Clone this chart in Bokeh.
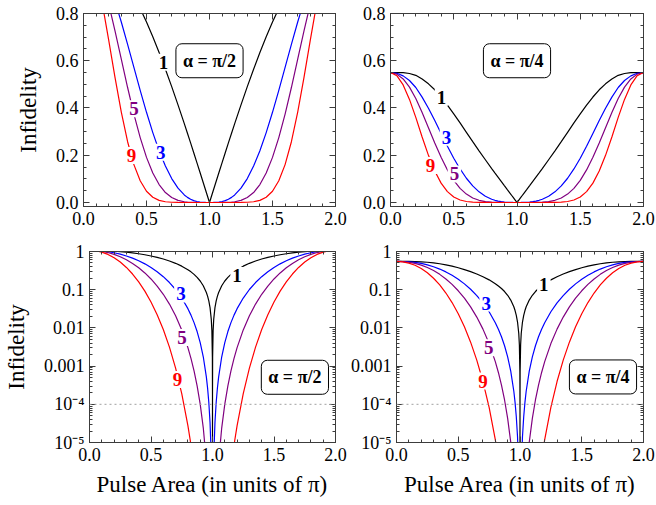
from bokeh.plotting import figure
from bokeh.models import (FixedTicker, LinearAxis, LogAxis, Label, Span,
                          CustomJSTickFormatter, Range1d)
from bokeh.layouts import column, row
from bokeh.embed import file_html
from bokeh.resources import INLINE

# ---------------- data ----------------
# distance of the pulse area from pi (in units of pi); curves are symmetric about 1.0
area_offset = [0, 1e-6, 1e-5, 1e-4, 0.001, 0.005, 0.01, 0.02, 0.03, 0.04, 0.05, 0.075,
               0.1, 0.125, 0.15, 0.175, 0.2, 0.25, 0.3, 0.35, 0.4, 0.45, 0.5, 0.55,
               0.6, 0.65, 0.7, 0.75, 0.8, 0.85, 0.9, 0.95, 1.0]

# alpha = pi/2
half_pi2_n1 = [0, 1.7e-6, 1.7e-5, 1.7e-4, 1.7e-3, 0.00848, 0.01696, 0.03392, 0.05087, 0.06781,
               0.08474, 0.1269, 0.1689, 0.2107, 0.2521, 0.2932, 0.3337, 0.4133, 0.4903, 0.5643,
               0.6348, 0.7014, 0.7637, 0.8212, 0.8737, 0.9209, 0.9623, 0.9978, 1.0271, 1.0502,
               1.0667, 1.0767, 1.08]
half_pi2_n3 = [0, 4.2e-18, 4.2e-15, 4.2e-12, 4.2e-9, 5.23e-7, 4.19e-6, 3.35e-5, 1.129e-4, 2.674e-4,
               5.216e-4, 1.754e-3, 4.134e-3, 8.019e-3, 0.01374, 0.0216, 0.03187, 0.06053, 0.1011,
               0.1541, 0.2193, 0.2958, 0.3818, 0.4749, 0.5719, 0.6694, 0.764, 0.8517, 0.9291,
               0.9929, 1.0406, 1.07, 1.08]
half_pi2_n5 = [0, 1.0e-29, 1.0e-24, 1.0e-19, 1.0e-14, 3.2e-11, 1.03e-9, 3.30e-8, 2.505e-7, 1.054e-6,
               3.211e-6, 2.423e-5, 1.012e-4, 3.052e-4, 7.488e-4, 1.592e-3, 3.043e-3, 8.864e-3,
               0.02083, 0.04206, 0.07577, 0.1248, 0.1909, 0.2746, 0.3743, 0.4867, 0.6065, 0.7269,
               0.8403, 0.9388, 1.0151, 1.0635, 1.08]
half_pi2_n9 = [0, 6.3e-53, 6.3e-44, 6.3e-35, 6.4e-26, 1.3e-19, 6.3e-17, 3.2e-14, 1.2e-12, 1.6e-11,
               1.217e-10, 4.623e-9, 6.059e-8, 4.421e-7, 2.224e-6, 8.64e-6, 2.775e-5, 1.901e-4,
               8.848e-4, 3.135e-3, 9.045e-3, 0.0222, 0.04773, 0.0918, 0.1603, 0.2572, 0.3823,
               0.5296, 0.6875, 0.8393, 0.9661, 1.0504, 1.08]

# alpha = pi/4
half_pi4_n1 = [0, 7.1e-7, 7.1e-6, 7.1e-5, 7.1e-4, 0.00356, 0.00712, 0.01425, 0.02137, 0.02848,
               0.03568, 0.05342, 0.07144, 0.08955, 0.1076, 0.1255, 0.1435, 0.181, 0.2187, 0.2573,
               0.2971, 0.3367, 0.375, 0.4122, 0.4465, 0.477, 0.5023, 0.5224, 0.5382, 0.5461,
               0.5494, 0.5502, 0.55]
half_pi4_n3 = [0, 1.76e-18, 1.76e-15, 1.76e-12, 1.76e-9, 2.2e-7, 1.76e-6, 1.407e-5, 4.742e-5,
               1.123e-4, 2.196e-4, 7.384e-4, 1.749e-3, 3.408e-3, 5.867e-3, 9.245e-3, 0.0137,
               0.02651, 0.04509, 0.07027, 0.1026, 0.142, 0.1875, 0.2384, 0.2922, 0.3467, 0.3988,
               0.4459, 0.4868, 0.5163, 0.5359, 0.5468, 0.55]
half_pi4_n5 = [0, 4.3e-30, 4.3e-25, 4.3e-20, 4.3e-15, 1.34e-11, 4.33e-10, 1.386e-8, 1.052e-7,
               4.427e-7, 1.352e-6, 1.02e-5, 4.281e-5, 1.297e-4, 3.197e-4, 6.814e-4, 1.308e-3,
               3.882e-3, 9.29e-3, 0.01918, 0.03546, 0.0599, 0.09373, 0.1378, 0.1913, 0.2521,
               0.3166, 0.3805, 0.4403, 0.4882, 0.5228, 0.5434, 0.55]
half_pi4_n9 = [0, 2.6e-53, 2.6e-44, 2.6e-35, 2.7e-26, 5.5e-20, 2.6e-17, 1.3e-14, 5.0e-13, 6.7e-12,
               5.12e-11, 1.946e-9, 2.563e-8, 1.879e-7, 9.496e-7, 3.698e-6, 1.193e-5, 8.326e-5,
               3.946e-4, 1.43e-3, 4.233e-3, 0.01066, 0.02344, 0.04608, 0.08191, 0.1332, 0.1996,
               0.2772, 0.3603, 0.4364, 0.4975, 0.5368, 0.55]

pulse_counts = [1, 3, 5, 9]

x_ticks = [0.0, 0.5, 1.0, 1.5, 2.0]
x_tick_labels = ["0.0", "0.5", "1.0", "1.5", "2.0"]
lin_y_ticks = [0.0, 0.2, 0.4, 0.6, 0.8]
lin_y_tick_labels = ["0.0", "0.2", "0.4", "0.6", "0.8"]
log_y_ticks = [1e-5, 1e-4, 1e-3, 1e-2, 1e-1, 1.0]
log_y_tick_labels = ["10\u207b\u2075", "10\u207b\u2074", "0.001", "0.01", "0.1", "1"]

x_title = "Pulse Area (in units of \u03c0)"
y_title = "Infidelity"

# ---------------- helpers ----------------
FONT = "Liberation Serif"
FRAME = "#3c3c3c"
COLORS = {1: "black", 3: "#0000ff", 5: "#800080", 9: "#ff0000"}

x_full = [1 - d for d in reversed(area_offset)] + [1 + d for d in area_offset[1:]]


def mirror(vals):
    return list(reversed(vals)) + list(vals[1:])


def fmt(ticks, labels, log):
    code = """
    let best = 0, bd = 1e99;
    for (let i = 0; i < tv.length; i++) {
        const a = LOG ? Math.log10(tv[i]) : tv[i];
        const b = LOG ? Math.log10(tick) : tick;
        const dd = Math.abs(a - b);
        if (dd < bd) { bd = dd; best = i; }
    }
    return tl[best];
    """.replace("LOG", "true" if log else "false")
    return CustomJSTickFormatter(args=dict(tv=ticks, tl=labels), code=code)


def style_axis(ax, ticker, formatter):
    ax.ticker = ticker
    ax.formatter = formatter
    ax.major_tick_in = 6
    ax.major_tick_out = 0
    ax.minor_tick_in = 3
    ax.minor_tick_out = 0
    ax.axis_line_color = FRAME
    ax.major_tick_line_color = FRAME
    ax.minor_tick_line_color = FRAME
    ax.major_label_text_font = FONT
    ax.major_label_text_font_size = "18px"
    ax.major_label_text_color = "black"
    ax.major_label_standoff = 5
    ax.axis_label_text_font = FONT
    ax.axis_label_text_font_size = "23px"
    ax.axis_label_text_font_style = "normal"
    ax.axis_label_text_color = "black"


def panel(series, log, w, h, borders, ylab, xlab, num_labels, box_xy, box_text):
    kw = dict(width=w, height=h, x_range=Range1d(0, 2), output_backend="svg",
              toolbar_location=None, tools="")
    if log:
        p = figure(y_range=Range1d(1e-5, 1), y_axis_type="log", **kw)
    else:
        p = figure(y_range=Range1d(-0.017, 0.8), **kw)
    p.min_border_left, p.min_border_right, p.min_border_top, p.min_border_bottom = borders
    p.outline_line_color = FRAME
    p.outline_line_width = 1
    p.xgrid.visible = False
    p.ygrid.visible = False
    p.background_fill_color = "white"
    p.border_fill_color = "white"

    xt = FixedTicker(ticks=x_ticks, minor_ticks=[i / 10 for i in range(21)])
    if log:
        yt = FixedTicker(ticks=log_y_ticks,
                         minor_ticks=[m * 10.0 ** k for k in range(-5, 0) for m in range(2, 10)])
        yf = fmt(log_y_ticks, log_y_tick_labels, True)
    else:
        yt = FixedTicker(ticks=lin_y_ticks, minor_ticks=[i * 0.05 for i in range(17)])
        yf = fmt(lin_y_ticks, lin_y_tick_labels, False)

    style_axis(p.xaxis[0], xt, fmt(x_ticks, x_tick_labels, False))
    style_axis(p.yaxis[0], yt, yf)
    if ylab:
        p.yaxis[0].axis_label = y_title
        p.yaxis[0].axis_label_standoff = 12
    if xlab:
        p.xaxis[0].axis_label = x_title
        p.xaxis[0].axis_label_standoff = 8

    empty = CustomJSTickFormatter(code="return ''")
    top = LinearAxis()
    style_axis(top, FixedTicker(ticks=x_ticks, minor_ticks=[i / 10 for i in range(21)]), empty)
    top.major_label_standoff = 0
    p.add_layout(top, "above")
    right = LogAxis() if log else LinearAxis()
    style_axis(right, yt, empty)
    right.major_label_standoff = 0
    p.add_layout(right, "right")

    if log:
        p.add_layout(Span(location=1e-4, dimension="width", line_color="#a0a0a0",
                          line_dash="2 3", line_width=1))

    for n in pulse_counts:
        p.line(x_full, mirror(series[n]), line_color=COLORS[n], line_width=1.2)

    for n, (lx, ly) in num_labels.items():
        p.add_layout(Label(x=lx, y=ly, text=str(n), text_color=COLORS[n], text_font=FONT,
                           text_font_style="bold", text_font_size="19px",
                           text_align="center", text_baseline="middle",
                           background_fill_color="white", padding=2))
    p.add_layout(Label(x=box_xy[0], y=box_xy[1], text=box_text, text_font=FONT,
                       text_font_style="bold", text_font_size="18px", text_color="black",
                       text_align="center", text_baseline="middle",
                       background_fill_color="white", border_line_color="black",
                       border_line_width=1, padding=7, border_radius=6))
    return p


pi2 = {1: half_pi2_n1, 3: half_pi2_n3, 5: half_pi2_n5, 9: half_pi2_n9}
pi4 = {1: half_pi4_n1, 3: half_pi4_n3, 5: half_pi4_n5, 9: half_pi4_n9}

tl = panel(pi2, False, 347, 236, (83, 12, 13, 30), True, False,
           {1: (0.635, 0.594), 5: (0.40, 0.397), 9: (0.38, 0.199), 3: (0.613, 0.213)},
           (1.0, 0.6), "\u03b1 = \u03c0/2")
tr = panel(pi4, False, 309, 236, (43, 13, 13, 30), False, False,
           {1: (0.403, 0.446), 3: (0.442, 0.276), 9: (0.316, 0.157), 5: (0.505, 0.121)},
           (1.0, 0.6), "\u03b1 = \u03c0/4")
bl = panel(pi2, True, 347, 269, (88, 12, 15, 63), True, True,
           {3: (0.743, 0.0776), 5: (0.752, 0.00562), 9: (0.716, 4.47e-4), 1: (1.2, 0.234)},
           (1.67, 5.1e-4), "\u03b1 = \u03c0/2")
br = panel(pi4, True, 309, 269, (46, 13, 14, 63), False, True,
           {3: (0.726, 0.0447), 5: (0.747, 0.0030), 9: (0.70, 4.07e-4), 1: (1.193, 0.135)},
           (1.672, 5.2e-4), "\u03b1 = \u03c0/4")

layout = column(row(tl, tr), row(bl, br))
open("out.html", "w").write(file_html(layout, INLINE))
